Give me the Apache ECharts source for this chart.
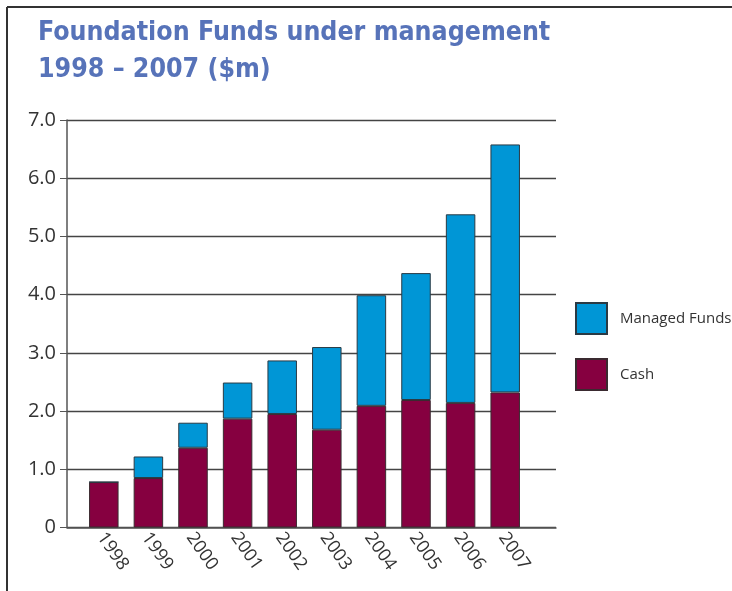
<!DOCTYPE html>
<html>
<head>
<meta charset="utf-8">
<script src="https://cdn.jsdelivr.net/npm/echarts@6/dist/echarts.min.js"></script>
<style>
html,body{margin:0;padding:0;background:#fff;}
#chart{width:732px;height:591px;}
</style>
</head>
<body>
<div id="chart"></div>
<script>
const years = ['1998','1999','2000','2001','2002','2003','2004','2005','2006','2007'];
const cash = [0.78, 0.85, 1.37, 1.87, 1.95, 1.68, 2.09, 2.19, 2.14, 2.32];
const managedFunds = [0, 0.37, 0.43, 0.62, 0.92, 1.42, 1.90, 2.18, 3.24, 4.26];
const yTicks = ['0','1.0','2.0','3.0','4.0','5.0','6.0','7.0'];

const chart = echarts.init(document.getElementById('chart'), null, {renderer:'canvas'});
const labelFont = "'Open Sans', 'Noto Sans', sans-serif";
const gridTop = 120, gridBottom = 591 - 527.5;
chart.setOption({
  animation: false,
  backgroundColor: '#ffffff',
  title: {
    text: 'Foundation Funds under management\n1998 – 2007 ($m)',
    left: 33, top: 9,
    textStyle: {
      fontFamily: "'DejaVu Sans Condensed', 'Liberation Sans Narrow', sans-serif",
      fontWeight: 'bold', fontSize: 26.5, lineHeight: 37.5, color: '#5773b9'
    }
  },
  legend: {
    orient: 'vertical', left: 575, top: 302, padding: 0,
    itemWidth: 31, itemHeight: 31, itemGap: 23, icon: 'rect',
    data: ['Managed Funds', 'Cash'],
    textStyle: {fontFamily: labelFont, fontSize: 15, color: '#333', padding: [0,0,0,8]}
  },
  grid: [
    {left: 67, right: 732 - 556, top: gridTop, bottom: gridBottom},
    {left: 81.5, width: 446, top: gridTop, bottom: gridBottom}
  ],
  xAxis: [
    {gridIndex: 0, type: 'value', min: 0, max: 1,
     axisLine: {show: true, lineStyle: {color: '#555', width: 1.5}},
     axisTick: {show: false}, axisLabel: {show: false}, splitLine: {show: false}},
    {gridIndex: 1, type: 'category', data: years,
     axisLine: {show: false}, axisTick: {show: false},
     axisLabel: {rotate: -55, fontFamily: labelFont, fontSize: 18, color: '#333', margin: 11, interval: 0,
                 padding: [0, 0, 0, -5]}}
  ],
  yAxis: [
    {gridIndex: 0, type: 'value', min: 0, max: 7, interval: 1,
     axisLine: {show: true, lineStyle: {color: '#555', width: 1.5}},
     axisTick: {show: true, inside: false, length: 7, lineStyle: {color: '#555'}},
     axisLabel: {fontFamily: labelFont, fontSize: 20, color: '#333', margin: 11,
                 formatter: (v) => yTicks[Math.round(v)]},
     splitLine: {show: true, lineStyle: {color: '#444', width: 1.3}}},
    {gridIndex: 1, type: 'value', min: 0, max: 7, show: false, splitLine: {show: false}}
  ],
  series: [
    {name: 'Cash', type: 'bar', stack: 'total', xAxisIndex: 1, yAxisIndex: 1,
     data: cash, barWidth: 29.5,
     itemStyle: {color: '#860040', borderColor: '#3a2a30', borderWidth: 1}},
    {name: 'Managed Funds', type: 'bar', stack: 'total', xAxisIndex: 1, yAxisIndex: 1,
     data: managedFunds, barWidth: 29.5,
     itemStyle: {color: '#0096d6', borderColor: '#2a3a44', borderWidth: 1}}
  ],
  graphic: [
    {type: 'line', shape: {x1: 7, y1: 7, x2: 732, y2: 7}, style: {stroke: '#333', lineWidth: 2}},
    {type: 'line', shape: {x1: 7, y1: 7, x2: 7, y2: 591}, style: {stroke: '#333', lineWidth: 2}}
  ]
});
</script>
</body>
</html>
